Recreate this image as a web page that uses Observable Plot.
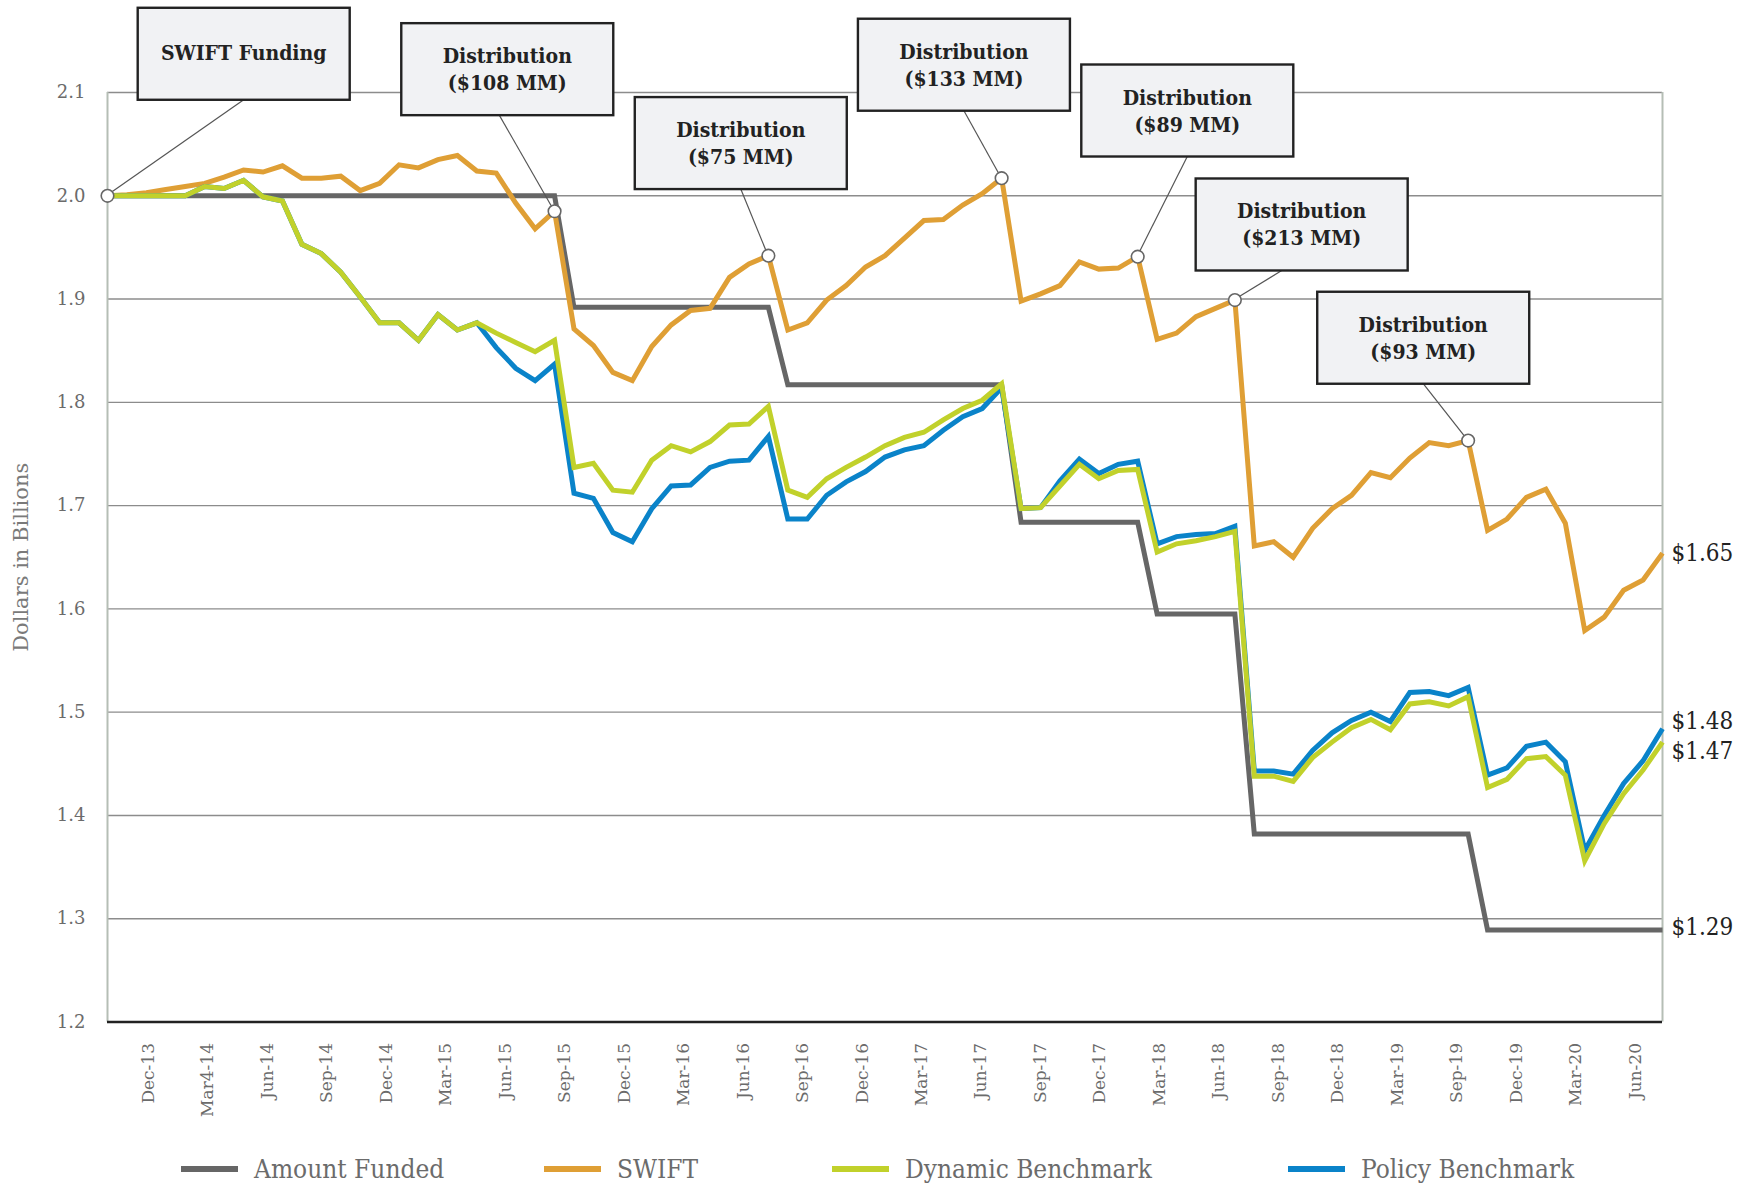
<!DOCTYPE html>
<html><head><meta charset="utf-8">
<script src="https://cdn.jsdelivr.net/npm/d3@7"></script>
<script src="https://cdn.jsdelivr.net/npm/@observablehq/plot@0.6"></script>
<style>
body{margin:0;background:#fff;}
#wrap{position:relative;width:1756px;height:1183px;overflow:hidden;background:#fff;}
.leg{position:absolute;top:1150px;height:38px;display:flex;align-items:center;font-family:"DejaVu Serif Condensed","DejaVu Serif",serif;font-size:26px;color:#6b6b6b;white-space:nowrap;}
.sw{display:inline-block;width:57px;height:6px;margin-right:16px;}
</style></head><body><div id="wrap"></div>
<script>
// ---------- data (monthly, index 0 .. 80) ----------
const amountFunded = [
  2.000,2.000,2.000,2.000,2.000,2.000,2.000,2.000,2.000,2.000,2.000,2.000,2.000,2.000,2.000,2.000,2.000,2.000,2.000,2.000,2.000,2.000,2.000,2.000,
  1.892,1.892,1.892,1.892,1.892,1.892,1.892,1.892,1.892,1.892,1.892,
  1.817,1.817,1.817,1.817,1.817,1.817,1.817,1.817,1.817,1.817,1.817,1.817,
  1.684,1.684,1.684,1.684,1.684,1.684,1.684,
  1.595,1.595,1.595,1.595,1.595,
  1.382,1.382,1.382,1.382,1.382,1.382,1.382,1.382,1.382,1.382,1.382,1.382,
  1.289,1.289,1.289,1.289,1.289,1.289,1.289,1.289,1.289,1.289
];
const swift = [
  2.000,2.001,2.003,2.006,2.009,2.012,2.018,2.025,2.023,2.029,2.017,2.017,2.019,2.005,2.012,2.030,2.027,2.035,2.039,2.024,
  2.022,1.993,1.968,1.985,1.871,1.855,1.829,1.821,1.854,1.875,1.889,1.891,1.921,1.934,1.942,1.870,1.877,1.899,1.913,1.931,
  1.942,1.959,1.976,1.977,1.991,2.002,2.017,1.898,1.905,1.913,1.936,1.929,1.930,1.941,1.861,1.867,1.883,1.891,1.899,1.661,
  1.665,1.650,1.678,1.697,1.710,1.732,1.727,1.746,1.761,1.758,1.763,1.676,1.687,1.708,1.716,1.683,1.579,1.592,1.618,1.628,
  1.654
];
const dynamicBenchmark = [
  2.000,2.000,2.000,2.000,2.000,2.009,2.007,2.015,1.999,1.995,1.953,1.944,1.926,1.902,1.877,1.877,1.860,1.885,1.870,1.877,
  1.867,1.858,1.849,1.860,1.737,1.741,1.715,1.713,1.744,1.758,1.752,1.762,1.778,1.779,1.796,1.715,1.708,1.726,1.737,1.747,
  1.758,1.766,1.771,1.783,1.794,1.802,1.818,1.697,1.698,1.719,1.740,1.726,1.734,1.735,1.655,1.663,1.666,1.670,1.675,1.438,
  1.438,1.433,1.456,1.471,1.485,1.493,1.483,1.508,1.510,1.506,1.515,1.427,1.435,1.455,1.457,1.439,1.356,1.392,1.421,1.444,
  1.471
];
const policyBenchmark = [
  2.000,2.000,2.000,2.000,2.000,2.009,2.007,2.015,1.999,1.995,1.953,1.944,1.926,1.902,1.877,1.877,1.860,1.885,1.870,1.877,
  1.853,1.833,1.821,1.837,1.712,1.707,1.674,1.665,1.697,1.719,1.720,1.737,1.743,1.744,1.767,1.687,1.687,1.710,1.723,1.733,
  1.747,1.754,1.758,1.773,1.786,1.794,1.814,1.697,1.698,1.724,1.745,1.731,1.740,1.743,1.663,1.670,1.672,1.673,1.680,1.443,
  1.443,1.440,1.463,1.480,1.492,1.500,1.491,1.519,1.520,1.516,1.524,1.439,1.446,1.467,1.471,1.452,1.366,1.400,1.431,1.453,
  1.484
];
const seriesNames = ["Amount Funded","SWIFT","Dynamic Benchmark","Policy Benchmark"];
const tickLabels = ["Dec-13","Mar4-14","Jun-14","Sep-14","Dec-14","Mar-15","Jun-15","Sep-15","Dec-15","Mar-16","Jun-16","Sep-16","Dec-16",
  "Mar-17","Jun-17","Sep-17","Dec-17","Mar-18","Jun-18","Sep-18","Dec-18","Mar-19","Sep-19","Dec-19","Mar-20","Jun-20"];
const yTicks = [1.2,1.3,1.4,1.5,1.6,1.7,1.8,1.9,2.0,2.1];
const annotationIndex = [0,23,34,46,53,58,70];
const annotationText = [["SWIFT Funding"],["Distribution","($108 MM)"],["Distribution","($75 MM)"],["Distribution","($133 MM)"],
  ["Distribution","($89 MM)"],["Distribution","($213 MM)"],["Distribution","($93 MM)"]];

// ---------- layout / style ----------
const colors = {"Amount Funded":"#666666","SWIFT":"#df9f35","Dynamic Benchmark":"#c1d12b","Policy Benchmark":"#0a83c9"};
const annotationLayout = [ // box centre / bottom offsets from the anchor point, px
  {dx:136.7,dy:-95.5,lx:0},{dx:-46.8,dy:-95.6,lx:-8},{dx:-27.1,dy:-66.1,lx:0},{dx:-37.2,dy:-67,lx:0},
  {dx:50.1,dy:-99.7,lx:0},{dx:67.3,dy:-29.1,lx:-20},{dx:-44.4,dy:-56.3,lx:0}];
const legendLeft = [181,544,832,1288];
const tickStart = 2.1, tickStep = 3.06;
const tickPos = tickLabels.map((_, k) => tickStart + k * tickStep);
const condensed = '"DejaVu Serif Condensed","DejaVu Serif",serif';

const n = swift.length;
const idx = d3.range(n);
const valuesBy = {"Amount Funded":amountFunded,"SWIFT":swift,"Dynamic Benchmark":dynamicBenchmark,"Policy Benchmark":policyBenchmark};
const drawOrder = ["Amount Funded","SWIFT","Policy Benchmark","Dynamic Benchmark"];

const W = 1756, H = 1125;
const endLabel = {fontSize: 24, fontFamily: condensed, fill: "#222", textAnchor: "start", dx: 9};
const chart = Plot.plot({
  width: W, height: H,
  marginLeft: 107, marginRight: 94, marginTop: 92, marginBottom: H - 1021.5,
  style: {fontFamily: '"DejaVu Serif", serif', color: "#6b6b6b", background: "white"},
  x: {domain: [0, n - 1]},
  y: {domain: [1.2, 2.1]},
  marks: [
    Plot.ruleY(yTicks.filter(v => v > 1.2), {stroke: "#8c8c8c", strokeWidth: 1.4}),
    Plot.ruleX([0, n - 1], {y1: 1.2, y2: 2.1, stroke: "#b5beb5", strokeWidth: 2}),
    ...drawOrder.map(name => Plot.line(idx, {
      x: d => d, y: i => valuesBy[name][i], stroke: colors[name], strokeWidth: 5,
      strokeLinejoin: "miter", strokeMiterlimit: 3, strokeLinecap: "butt"
    })),
    Plot.ruleY([1.2], {stroke: "#222", strokeWidth: 2.6}),
    Plot.axisY({ticks: yTicks, tickSize: 0, tickPadding: 22, tickFormat: d3.format(".1f"),
      fontSize: 18, label: null}),
    Plot.axisX({ticks: tickPos, tickSize: 0, tickPadding: 21, tickRotate: -90, fontSize: 17,
      tickFormat: d => tickLabels[Math.round((d - tickStart) / tickStep)], label: null}),
    Plot.text(["Dollars in Billions"], {frameAnchor: "left", rotate: -90, dx: -86, textAnchor: "middle",
      fontSize: 21, fill: "#7a7a7a"}),
    Plot.text([n - 1], {...endLabel, x: d => d, y: d => swift[d], text: d => "$" + swift[d].toFixed(2)}),
    Plot.text([n - 1], {...endLabel, x: d => d, y: d => policyBenchmark[d], text: d => "$" + policyBenchmark[d].toFixed(2), dy: -7}),
    Plot.text([n - 1], {...endLabel, x: d => d, y: d => dynamicBenchmark[d], text: d => "$" + dynamicBenchmark[d].toFixed(2), dy: 9}),
    Plot.text([n - 1], {...endLabel, x: d => d, y: d => amountFunded[d], text: d => "$" + amountFunded[d].toFixed(2), dy: -3}),
    Plot.dot(annotationIndex, {x: d => d, y: d => swift[d], r: 6.3, fill: "white", stroke: "#666", strokeWidth: 1.6})
  ]
});
document.getElementById("wrap").appendChild(chart);

// ---------- annotation boxes & leaders (positioned through the plot's scales) ----------
const sx = chart.scale("x"), sy = chart.scale("y");
const svg = d3.select(chart);
const g = svg.append("g").attr("class", "annotations");
const boxW = 212, boxH = 92;
annotationIndex.forEach((ix, k) => {
  const L = annotationLayout[k];
  const ax = sx.apply(ix), ay = sy.apply(swift[ix]);
  const cx = ax + L.dx, bottom = ay + L.dy, top = bottom - boxH;
  g.append("line").attr("x1", cx + L.lx).attr("y1", bottom).attr("x2", ax).attr("y2", ay)
    .attr("stroke", "#555").attr("stroke-width", 1.2);
  g.append("rect").attr("x", cx - boxW / 2).attr("y", top).attr("width", boxW).attr("height", boxH)
    .attr("fill", "#f1f2f4").attr("stroke", "#222").attr("stroke-width", 2.4);
  const lines = annotationText[k];
  const base = lines.length === 1 ? [52] : [40, 67];
  lines.forEach((t, j) => {
    g.append("text").attr("x", cx).attr("y", top + base[j]).attr("text-anchor", "middle")
      .attr("font-family", condensed).attr("font-weight", "bold").attr("font-size", 21).attr("fill", "#222").text(t);
  });
});
svg.selectAll('g[aria-label="dot"]').raise();

// ---------- legend ----------
const legendOrder = ["Amount Funded","SWIFT","Dynamic Benchmark","Policy Benchmark"];
legendOrder.forEach((name, k) => {
  const item = document.createElement("div");
  item.className = "leg";
  item.style.left = legendLeft[k] + "px";
  const sw = document.createElement("span");
  sw.className = "sw"; sw.style.background = colors[name];
  const tx = document.createElement("span");
  tx.textContent = name;
  item.appendChild(sw); item.appendChild(tx);
  document.getElementById("wrap").appendChild(item);
});
</script></body></html>
